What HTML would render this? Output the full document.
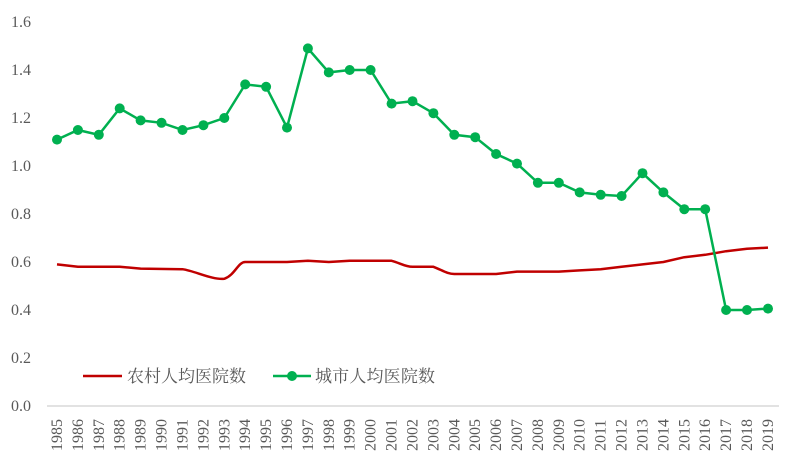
<!DOCTYPE html>
<html><head><meta charset="utf-8"><style>body{margin:0;background:#fff}svg{display:block}text{font-family:"Liberation Serif","Noto Serif CJK SC",serif}</style></head><body>
<svg width="800" height="464" xmlns="http://www.w3.org/2000/svg">
<line x1="47" y1="406" x2="779" y2="406" stroke="#d9d9d9" stroke-width="1.5"/>
<g font-size="16" fill="#595959" text-anchor="end">
<text x="31" y="411">0.0</text><text x="31" y="363">0.2</text><text x="31" y="315">0.4</text><text x="31" y="267">0.6</text><text x="31" y="219">0.8</text><text x="31" y="171">1.0</text><text x="31" y="123">1.2</text><text x="31" y="75">1.4</text><text x="31" y="27">1.6</text>
</g>
<g font-size="16" fill="#595959">
<text transform="translate(62,451) rotate(-90)">1985</text><text transform="translate(82.9,451) rotate(-90)">1986</text><text transform="translate(103.8,451) rotate(-90)">1987</text><text transform="translate(124.7,451) rotate(-90)">1988</text><text transform="translate(145.6,451) rotate(-90)">1989</text><text transform="translate(166.5,451) rotate(-90)">1990</text><text transform="translate(187.5,451) rotate(-90)">1991</text><text transform="translate(208.4,451) rotate(-90)">1992</text><text transform="translate(229.3,451) rotate(-90)">1993</text><text transform="translate(250.2,451) rotate(-90)">1994</text><text transform="translate(271.1,451) rotate(-90)">1995</text><text transform="translate(292,451) rotate(-90)">1996</text><text transform="translate(312.9,451) rotate(-90)">1997</text><text transform="translate(333.8,451) rotate(-90)">1998</text><text transform="translate(354.7,451) rotate(-90)">1999</text><text transform="translate(375.6,451) rotate(-90)">2000</text><text transform="translate(396.6,451) rotate(-90)">2001</text><text transform="translate(417.5,451) rotate(-90)">2002</text><text transform="translate(438.4,451) rotate(-90)">2003</text><text transform="translate(459.3,451) rotate(-90)">2004</text><text transform="translate(480.2,451) rotate(-90)">2005</text><text transform="translate(501.1,451) rotate(-90)">2006</text><text transform="translate(522,451) rotate(-90)">2007</text><text transform="translate(542.9,451) rotate(-90)">2008</text><text transform="translate(563.8,451) rotate(-90)">2009</text><text transform="translate(584.7,451) rotate(-90)">2010</text><text transform="translate(605.7,451) rotate(-90)">2011</text><text transform="translate(626.6,451) rotate(-90)">2012</text><text transform="translate(647.5,451) rotate(-90)">2013</text><text transform="translate(668.4,451) rotate(-90)">2014</text><text transform="translate(689.3,451) rotate(-90)">2015</text><text transform="translate(710.2,451) rotate(-90)">2016</text><text transform="translate(731.1,451) rotate(-90)">2017</text><text transform="translate(752,451) rotate(-90)">2018</text><text transform="translate(773,451) rotate(-90)">2019</text>
</g>
<path fill="none" stroke="#c00000" stroke-width="2.5" stroke-linejoin="round" d="M57,264.4 L77.9,266.8 L119.7,266.8 L140.6,268.6 L182.5,269.2 C195,271 212,280 224.3,278.8 C235,275 238,262 245.2,262 L287,262 L307.9,260.8 L328.8,262 L349.7,260.8 L391.6,260.8 C400,263 405,266.8 412.5,266.8 L433.4,266.8 C442,270 447,274 454.3,274 L496.1,274 L517,271.6 L558.8,271.6 L579.7,270.4 L600.7,269.2 L621.6,266.8 L642.5,264.4 L663.4,262 L684.3,257.2 L705.2,254.8 L726.1,251.2 L747,248.8 L768,247.6"/>
<g fill="#00b050">
<polyline fill="none" stroke="#00b050" stroke-width="2.5" points="57,139.6 77.9,130 98.8,134.8 119.7,108.4 140.6,120.4 161.5,122.8 182.5,130 203.4,125.2 224.3,118 245.2,84.4 266.1,86.8 287,127.6 307.9,48.4 328.8,72.4 349.7,70 370.6,70 391.6,103.6 412.5,101.2 433.4,113.2 454.3,134.8 475.2,137.2 496.1,154 517,163.6 537.9,182.8 558.8,182.8 579.7,192.4 600.7,194.8 621.6,196 642.5,173.2 663.4,192.4 684.3,209.2 705.2,209.2 726.1,310 747,310 768,308.6"/>
<circle cx="57" cy="139.6" r="5"/><circle cx="77.9" cy="130" r="5"/><circle cx="98.8" cy="134.8" r="5"/><circle cx="119.7" cy="108.4" r="5"/><circle cx="140.6" cy="120.4" r="5"/><circle cx="161.5" cy="122.8" r="5"/><circle cx="182.5" cy="130" r="5"/><circle cx="203.4" cy="125.2" r="5"/><circle cx="224.3" cy="118" r="5"/><circle cx="245.2" cy="84.4" r="5"/><circle cx="266.1" cy="86.8" r="5"/><circle cx="287" cy="127.6" r="5"/><circle cx="307.9" cy="48.4" r="5"/><circle cx="328.8" cy="72.4" r="5"/><circle cx="349.7" cy="70" r="5"/><circle cx="370.6" cy="70" r="5"/><circle cx="391.6" cy="103.6" r="5"/><circle cx="412.5" cy="101.2" r="5"/><circle cx="433.4" cy="113.2" r="5"/><circle cx="454.3" cy="134.8" r="5"/><circle cx="475.2" cy="137.2" r="5"/><circle cx="496.1" cy="154" r="5"/><circle cx="517" cy="163.6" r="5"/><circle cx="537.9" cy="182.8" r="5"/><circle cx="558.8" cy="182.8" r="5"/><circle cx="579.7" cy="192.4" r="5"/><circle cx="600.7" cy="194.8" r="5"/><circle cx="621.6" cy="196" r="5"/><circle cx="642.5" cy="173.2" r="5"/><circle cx="663.4" cy="192.4" r="5"/><circle cx="684.3" cy="209.2" r="5"/><circle cx="705.2" cy="209.2" r="5"/><circle cx="726.1" cy="310" r="5"/><circle cx="747" cy="310" r="5"/><circle cx="768" cy="308.6" r="5"/>
</g>
<line x1="83" y1="376" x2="122" y2="376" stroke="#c00000" stroke-width="2.5"/>
<line x1="273" y1="376" x2="311" y2="376" stroke="#00b050" stroke-width="2.5"/>
<circle cx="292" cy="376" r="5" fill="#00b050"/>
<g font-size="17" fill="#595959">
<text x="127" y="382" textLength="119">农村人均医院数</text>
<text x="315" y="382" textLength="120">城市人均医院数</text>
</g>
</svg>
</body></html>
